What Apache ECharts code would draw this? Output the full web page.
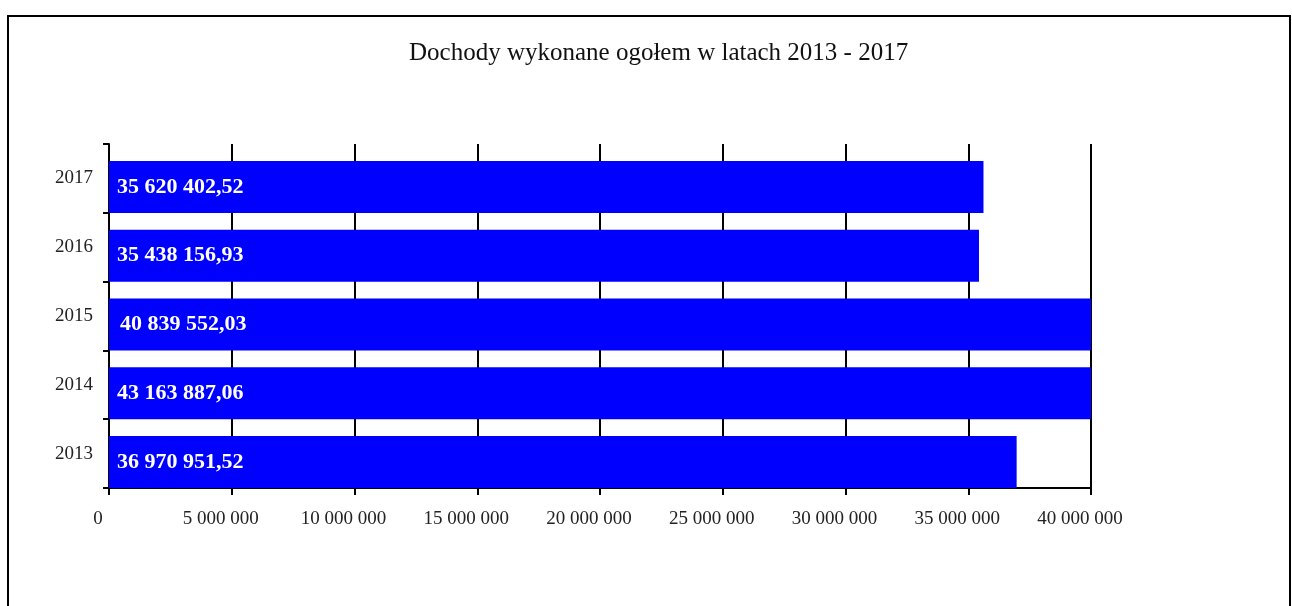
<!DOCTYPE html>
<html>
<head>
<meta charset="utf-8">
<script src="https://cdn.jsdelivr.net/npm/echarts@6/dist/echarts.min.js"></script>
<style>html,body{margin:0;padding:0;background:#fff}#c{width:1292px;height:606px}</style>
</head>
<body>
<div id="c"></div>
<script>
const years = ['2013', '2014', '2015', '2016', '2017'];
const income = [36970951.52, 43163887.06, 40839552.03, 35438156.93, 35620402.52];
const spacer = [0, 0, 0, 0, 0];
const axisTicks = [0, 5000000, 10000000, 15000000, 20000000, 25000000, 30000000, 35000000, 40000000];
const titleText = 'Dochody wykonane ogołem w latach 2013 - 2017';

function spaced(n) {
  return String(Math.round(n)).replace(/\B(?=(\d{3})+(?!\d))/g, ' ');
}
function money(v) {
  const parts = v.toFixed(2).split('.');
  return spaced(Number(parts[0])) + ',' + parts[1];
}

const chart = echarts.init(document.getElementById('c'), null, {renderer: 'canvas'});
const serif = '"Liberation Serif", "DejaVu Serif", serif';
chart.setOption({
  animation: false,
  backgroundColor: '#fff',
  title: {
    text: titleText,
    left: 409,
    top: 41,
    padding: 0,
    textStyle: {fontFamily: serif, fontWeight: 'normal', fontSize: 25, color: '#111'}
  },
  graphic: [{
    type: 'rect',
    shape: {x: 8, y: 16, width: 1282, height: 640},
    style: {fill: 'none', stroke: '#000', lineWidth: 2},
    silent: true
  }],
  grid: {left: 109, right: 201, top: 144, bottom: 118, containLabel: false},
  xAxis: {
    type: 'value',
    min: axisTicks[0],
    max: axisTicks[axisTicks.length - 1],
    interval: axisTicks[1] - axisTicks[0],
    axisLine: {show: true, lineStyle: {color: '#000', width: 2}},
    axisTick: {show: true, length: 7, lineStyle: {color: '#000', width: 2}},
    splitLine: {show: true, lineStyle: {color: '#000', width: 2}},
    axisLabel: {
      fontFamily: serif, fontSize: 19, color: '#222', margin: 22,
      padding: [0, 22, 0, 0],
      formatter: v => spaced(v)
    }
  },
  yAxis: {
    type: 'category',
    data: years,
    axisLine: {show: true, lineStyle: {color: '#000', width: 2}},
    axisTick: {show: true, length: 6, lineStyle: {color: '#000', width: 2}},
    axisLabel: {fontFamily: serif, fontSize: 19, color: '#222', margin: 16},
    splitLine: {show: false}
  },
  series: [{
    type: 'bar',
    data: spacer,
    barWidth: 17,
    barGap: '0%',
    itemStyle: {color: 'rgba(0,0,0,0)'},
    silent: true
  }, {
    type: 'bar',
    data: income.map((v, i) => i === 2 ? {value: v, label: {distance: 11}} : v),
    barWidth: 52,
    barGap: '0%',
    itemStyle: {color: '#0000ff'},
    label: {
      show: true,
      position: 'insideLeft',
      distance: 8,
      fontFamily: serif,
      fontWeight: 'bold',
      fontSize: 22,
      color: '#fff',
      formatter: p => money(p.value)
    },
    z: 3
  }]
});
</script>
</body>
</html>
